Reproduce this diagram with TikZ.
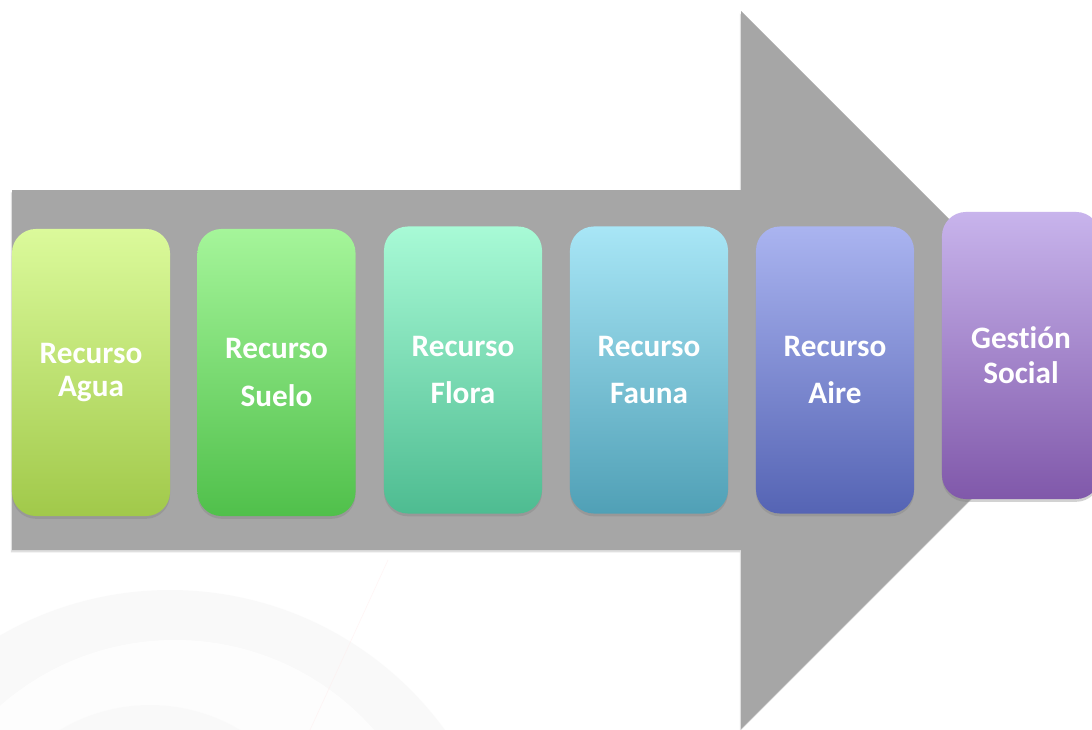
\documentclass[tikz,border=0pt]{standalone}
\usepackage{fontspec}
\setmainfont{Carlito}[Ligatures={NoCommon}]
\usetikzlibrary{shadows}
\definecolor{flecha}{HTML}{A6A6A6}
\definecolor{aguaA}{HTML}{DBFA9B}
\definecolor{aguaB}{HTML}{A1C94A}
\definecolor{sueloA}{HTML}{A5F59A}
\definecolor{sueloB}{HTML}{50C04B}
\definecolor{floraA}{HTML}{A8FAD6}
\definecolor{floraB}{HTML}{4EBC91}
\definecolor{faunaA}{HTML}{A8E6F6}
\definecolor{faunaB}{HTML}{50A0B6}
\definecolor{aireA}{HTML}{AAB4F0}
\definecolor{aireB}{HTML}{5564B4}
\definecolor{socialA}{HTML}{C8B4EC}
\definecolor{socialB}{HTML}{8058AA}
\tikzset{
	caja/.style={rounded corners=0.6cm, minimum width=3.95cm, minimum height=7.175cm,
		inner sep=0pt, align=center, text=white,
		font=\fontsize{22.2}{23.5}\selectfont\bfseries,
		drop shadow={opacity=0.35, shadow xshift=0pt, shadow yshift=-0.07cm}},
	sombra/.style={drop shadow={opacity=0.25, shadow xshift=-0.03cm, shadow yshift=-0.06cm}}
}

\begin{document}
\begin{tikzpicture}[x=0.025cm, y=-0.025cm]
	%%%%% INICIO %%%%%
	
	\useasboundingbox (0,0) rectangle (1092,730);
	\clip (0,0) rectangle (1092,730);
	\fill[white] (0,0) rectangle (1092,730);
	
	% fondo tenue
	\fill[black!4, opacity=0.5] (170,930) circle (340);
	\fill[white, opacity=0.8] (175,905) circle (265);
	\fill[black!3, opacity=0.5] (150,880) circle (175);
	\draw[red!8, opacity=0.5] (388,560) -- (310,730);
	
	% flecha
	\fill[flecha, sombra] (12,190) -- (741,190) -- (741,11) -- (1100,370)
		-- (741,729) -- (741,550) -- (12,550) -- cycle;
	
	% cajas
	\node[caja, top color=aguaA, bottom color=aguaB] (agua) at (91,372.5) {Recurso\\[-0.5pt]Agua};
	\node[caja, top color=sueloA, bottom color=sueloB] (suelo) at (276.5,372.5) {Recurso\\[10pt]Suelo};
	\node[caja, top color=floraA, bottom color=floraB] (flora) at (463,370) {Recurso\\[10.5pt]Flora};
	\node[caja, top color=faunaA, bottom color=faunaB] (fauna) at (649,370) {Recurso\\[10.5pt]Fauna};
	\node[caja, top color=aireA, bottom color=aireB] (aire) at (835,370) {Recurso\\[10.5pt]Aire};
	\node[caja, top color=socialA, bottom color=socialB] (social) at (1021,355.5) {Gestión\\[1.5pt]Social};
	
	%%%%% FIN %%%%%
\end{tikzpicture}
\end{document}
